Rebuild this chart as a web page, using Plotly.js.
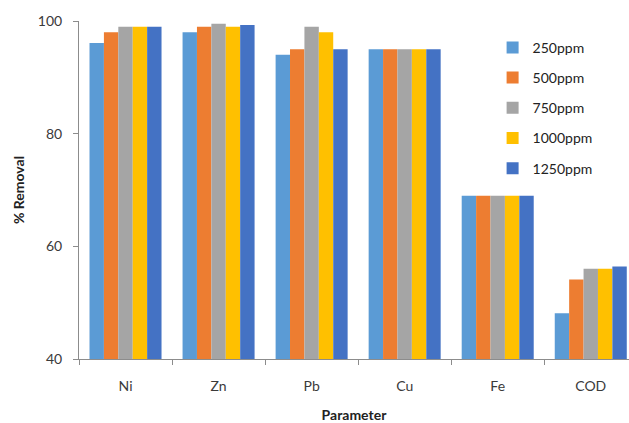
<!DOCTYPE html>
<html>
<head>
<meta charset="utf-8">
<script src="https://cdn.plot.ly/plotly-3.0.1.min.js"></script>
<style>
  html, body { margin: 0; padding: 0; background: #ffffff; overflow: hidden; }
  #chart { width: 629px; height: 423px; }
</style>
</head>
<body>
<div id="chart"></div>
<script>
// Removal efficiency per parameter at each dose
const parameters = ["Ni", "Zn", "Pb", "Cu", "Fe", "COD"];
const doses = ["250ppm", "500ppm", "750ppm", "1000ppm", "1250ppm"];
const removal250 = [96.1, 98.0, 94.0, 95.0, 69.0, 48.1];
const removal500 = [98.0, 99.0, 95.0, 95.0, 69.0, 54.1];
const removal750 = [99.0, 99.5, 99.0, 95.0, 69.0, 56.0];
const removal1000 = [99.0, 99.0, 98.0, 95.0, 69.0, 56.0];
const removal1250 = [99.0, 99.3, 95.0, 95.0, 69.0, 56.4];
const yTicks = [40, 60, 80, 100];

const seriesValues = [removal250, removal500, removal750, removal1000, removal1250];
const colors = ["#5B9BD5", "#ED7D31", "#A5A5A5", "#FFC000", "#4472C4"];

const traces = doses.map((name, i) => ({
  type: "bar",
  name: name,
  x: parameters,
  y: seriesValues[i],
  marker: { color: colors[i], line: { width: 0 } },
  legendgroup: name,
  hoverinfo: "x+y+name"
}));

const textColor = "#3a3a3a";
const axisColor = "#8c8c8c";

const layout = {
  width: 629,
  height: 423,
  margin: { l: 79, r: 0, t: 21, b: 64, pad: 0 },
  paper_bgcolor: "#ffffff",
  plot_bgcolor: "#ffffff",
  font: { family: "Lato, 'Open Sans', sans-serif", size: 14, color: textColor },
  barmode: "group",
  bargap: 0.226,
  bargroupgap: 0,
  showlegend: true,
  legend: {
    x: 0.752, y: 0.968, xanchor: "left", yanchor: "top",
    traceorder: "grouped",
    tracegroupgap: 9,
    font: { family: "Lato, sans-serif", size: 14, color: "#222222" },
    bgcolor: "rgba(0,0,0,0)",
    itemwidth: 30
  },
  xaxis: {
    type: "category",
    range: [-0.5, 5.411],
    showline: true, linecolor: axisColor, linewidth: 1,
    ticks: "outside", tickson: "boundaries", ticklen: 5, tickcolor: axisColor,
    showgrid: false, zeroline: false,
    tickfont: { size: 14, color: textColor },
    ticklabelstandoff: 14,
    title: { text: "<b>Parameter</b>", font: { size: 14, color: "#222222" }, standoff: 25 },
    automargin: false,
    fixedrange: true
  },
  yaxis: {
    range: [40, 100],
    tickvals: yTicks,
    showline: true, linecolor: axisColor, linewidth: 1,
    ticks: "outside", ticklen: 5, tickcolor: axisColor,
    showgrid: false, zeroline: false,
    tickfont: { size: 14, color: textColor },
    ticklabelstandoff: 8,
    title: { text: "<b>% Removal</b>", font: { size: 14, color: "#222222" }, standoff: 9 },
    automargin: false,
    fixedrange: true
  }
};

Plotly.newPlot("chart", traces, layout, { displayModeBar: false, staticPlot: true });
</script>
</body>
</html>
